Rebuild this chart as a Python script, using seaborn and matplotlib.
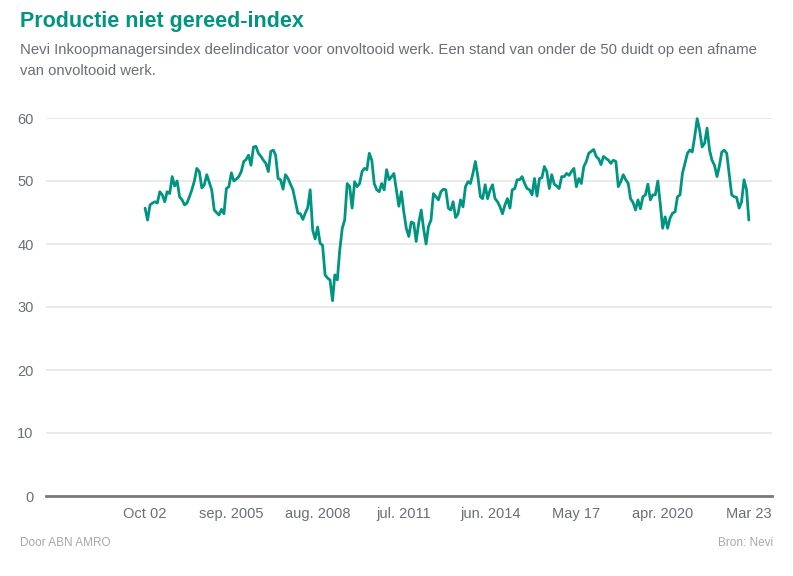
import matplotlib
matplotlib.use("Agg")
import matplotlib.pyplot as plt
import seaborn as sns
import pandas as pd
import numpy as np

# ---- data ----
start_month = "2002-10-01"
values = [
    45.7, 43.8, 46.2, 46.5, 46.7, 46.5, 48.3, 47.8, 46.7, 48.3,
    48.0, 50.7, 49.2, 50.0, 47.5, 47.0, 46.2, 46.5, 47.5, 48.6,
    50.0, 52.0, 51.5, 48.9, 49.4, 51.0, 49.8, 48.6, 45.4, 45.0,
    44.6, 45.5, 44.8, 48.8, 49.1, 51.3, 50.0, 50.3, 50.7, 51.5,
    53.1, 53.4, 54.1, 52.5, 55.4, 55.5, 54.4, 53.9, 53.3, 52.8,
    51.5, 54.7, 54.9, 54.1, 50.4, 50.2, 48.7, 51.0, 50.4, 49.5,
    48.6, 46.7, 44.9, 44.8, 43.9, 44.9, 45.8, 48.6, 42.2, 40.8,
    42.7, 40.1, 39.8, 35.1, 34.6, 34.3, 31.0, 35.1, 34.3, 39.0,
    42.5, 43.8, 49.6, 49.1, 45.7, 49.9, 49.1, 49.6, 51.5, 52.0,
    51.8, 54.4, 53.3, 49.6, 48.6, 48.3, 49.6, 48.6, 51.8, 50.2,
    50.7, 51.2, 48.6, 46.0, 48.3, 45.1, 42.5, 41.2, 43.5, 43.3,
    40.4, 43.3, 45.4, 42.5, 40.0, 42.8, 43.8, 48.0, 47.5, 47.0,
    48.3, 48.7, 48.6, 45.7, 45.4, 46.7, 44.2, 44.8, 47.0, 45.9,
    49.1, 49.9, 49.6, 51.2, 53.1, 50.7, 47.5, 47.2, 49.4, 47.2,
    48.6, 49.4, 47.2, 46.7, 45.9, 44.8, 46.2, 47.2, 45.7, 48.6,
    48.8, 50.2, 50.2, 50.7, 49.6, 48.8, 48.6, 47.8, 50.4, 47.6,
    50.4, 50.5, 52.3, 51.5, 48.8, 51.0, 49.5, 49.2, 48.8, 50.7,
    50.7, 51.2, 50.9, 51.5, 52.0, 49.1, 50.4, 49.6, 52.3, 53.1,
    54.4, 54.7, 55.0, 53.9, 53.5, 52.6, 53.9, 53.6, 53.3, 52.8,
    53.3, 53.1, 49.1, 49.9, 51.0, 50.2, 49.6, 47.2, 46.6, 45.4,
    47.0, 45.6, 47.5, 47.8, 49.5, 47.0, 47.8, 47.8, 50.0, 46.5,
    42.5, 44.3, 42.5, 44.1, 44.9, 45.1, 47.5, 47.8, 51.2, 52.8,
    54.4, 54.9, 54.6, 57.0, 59.9, 58.1, 55.4, 56.0, 58.4, 54.9,
    53.3, 52.5, 50.7, 52.3, 54.6, 54.9, 54.4, 51.2, 47.8, 47.5,
    47.4, 45.7, 46.7, 50.2, 48.6, 43.8,
]
tick_labels = ["Oct 02", "sep. 2005", "aug. 2008", "jul. 2011",
               "jun. 2014", "May 17", "apr. 2020", "Mar 23"]
y_ticks = [0, 10, 20, 30, 40, 50, 60]

title = "Productie niet gereed-index"
subtitle = ("Nevi Inkoopmanagersindex deelindicator voor onvoltooid werk. Een stand van onder de 50 duidt op een afname\n"
            "van onvoltooid werk.")
footer_left = "Door ABN AMRO"
footer_right = "Bron: Nevi"

dates = pd.date_range(start_month, periods=len(values), freq="MS")
df = pd.DataFrame({"date": dates, "value": values})
tick_dates = dates[::35]

# ---- style ----
sns.set_theme(style="white")
plt.rcParams["font.family"] = ["Liberation Sans", "DejaVu Sans"]

TEAL = "#009580"
GREY = "#6a6f74"

fig = plt.figure(figsize=(7.93, 5.76), dpi=100)
ax = fig.add_axes([46 / 793, 1 - 496 / 576, (772 - 46) / 793, (496 - 118) / 576])

sns.lineplot(data=df, x="date", y="value", ax=ax, color=TEAL, linewidth=2.0)
for l in ax.lines:
    l.set_clip_on(False)

span = dates[-1] - dates[0]
ax.set_xlim(dates[0] - span * (40.2 / 245), dates[-1] + span * (9.4 / 245))
ax.set_ylim(0, 60)
ax.set_yticks(y_ticks)
ax.set_yticklabels([str(v) for v in y_ticks])
ax.set_xticks(tick_dates)
ax.set_xticklabels(tick_labels)
ax.set_xlabel("")
ax.set_ylabel("")

ax.grid(axis="y", color="#e6e6e6", linewidth=1.2)
ax.grid(axis="x", visible=False)
ax.set_axisbelow(True)
for s in ["top", "right", "left"]:
    ax.spines[s].set_visible(False)
ax.spines["bottom"].set_color("#7a7a7a")
ax.spines["bottom"].set_linewidth(2.0)
ax.tick_params(axis="both", length=0, labelsize=10.5, labelcolor=GREY)
ax.tick_params(axis="y", pad=9)
ax.tick_params(axis="x", pad=8)

fig.text(20 / 793, 1 - 21 / 576, title, fontsize=15.5, fontweight="bold",
         color=TEAL, ha="left", va="center")
fig.text(20 / 793, 1 - 43 / 576, subtitle, fontsize=10.7, color=GREY,
         ha="left", va="top", linespacing=1.6)
fig.text(20 / 793, 1 - 543 / 576, footer_left, fontsize=8.5, color="#a8a8a8",
         ha="left", va="center")
fig.text(773 / 793, 1 - 543 / 576, footer_right, fontsize=8.5, color="#a8a8a8",
         ha="right", va="center")

fig.savefig("out.png", dpi=100)
